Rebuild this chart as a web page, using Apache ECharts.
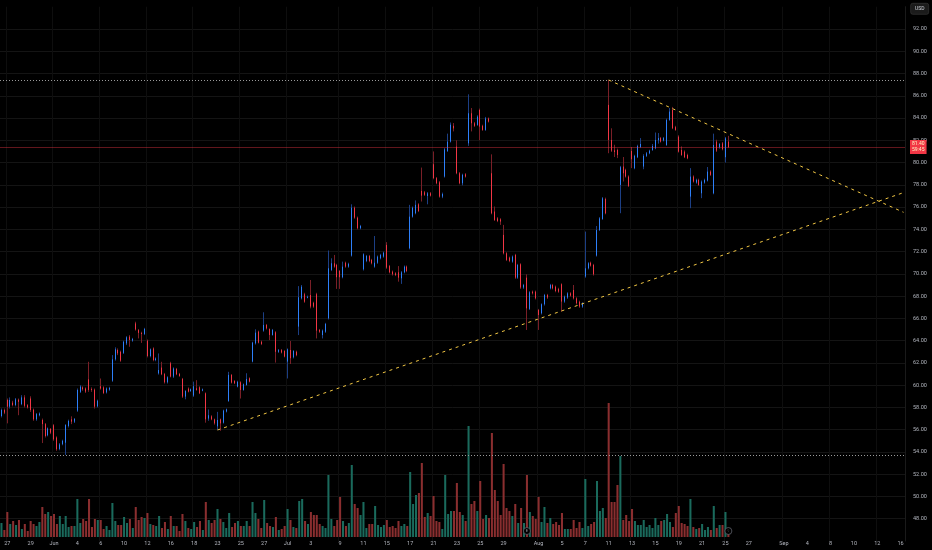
<!DOCTYPE html>
<html lang="en">
<head>
<meta charset="UTF-8">
<script src="https://cdn.jsdelivr.net/npm/echarts@6/dist/echarts.min.js"></script>
<title>Price chart</title>
</head>
<body style="margin:0;background:#000;">
<div id="container" style="width:932px;height:550px;"></div>
<script>
// trading days that have bars (2h bars, [open, close, low, high])
const days = [
    '2025-05-23', '2025-05-27', '2025-05-28', '2025-05-29', '2025-05-30',
    '2025-06-02', '2025-06-03', '2025-06-04', '2025-06-05', '2025-06-06',
    '2025-06-09', '2025-06-10', '2025-06-11', '2025-06-12', '2025-06-13',
    '2025-06-16', '2025-06-17', '2025-06-18', '2025-06-20', '2025-06-23',
    '2025-06-24', '2025-06-25', '2025-06-26', '2025-06-27', '2025-06-30',
    '2025-07-01', '2025-07-02', '2025-07-03', '2025-07-07', '2025-07-08',
    '2025-07-09', '2025-07-10', '2025-07-11', '2025-07-14', '2025-07-15',
    '2025-07-16', '2025-07-17', '2025-07-18', '2025-07-21', '2025-07-22',
    '2025-07-23', '2025-07-24', '2025-07-25', '2025-07-28', '2025-07-29',
    '2025-07-30', '2025-07-31', '2025-08-01', '2025-08-04', '2025-08-05',
    '2025-08-06', '2025-08-07', '2025-08-08', '2025-08-11', '2025-08-12',
    '2025-08-13', '2025-08-14', '2025-08-15', '2025-08-18', '2025-08-19',
    '2025-08-20', '2025-08-21', '2025-08-22', '2025-08-25'
];
// empty days on the right side of the chart
const futureDays = [
    '2025-08-26', '2025-08-27', '2025-08-28', '2025-08-29', '2025-09-02',
    '2025-09-03', '2025-09-04', '2025-09-05', '2025-09-08', '2025-09-09',
    '2025-09-10', '2025-09-11', '2025-09-12', '2025-09-15', '2025-09-16'
];
const candles = [
    [[57.23,57.77,57.10,57.90],[57.77,57.53,57.40,57.90]],
    [[58.67,58.07,56.57,58.80],[58.07,58.67,57.90,58.90],[58.43,58.22,58.10,58.60],[58.22,58.73,58.10,58.85]],
    [[58.70,58.50,57.30,58.80],[58.30,58.90,58.20,59.10],[58.90,58.15,58.00,59.10],[58.20,58.00,57.90,58.30]],
    [[58.80,57.77,57.60,59.00],[57.80,56.93,56.80,57.90],[56.93,57.40,56.80,57.50],[57.30,57.45,57.20,57.55]],
    [[56.87,56.50,54.80,57.00],[56.50,55.43,55.30,56.60],[55.50,56.12,55.40,56.20],[56.06,55.73,55.60,56.15]],
    [[56.40,55.13,55.00,56.50],[55.30,54.24,54.10,55.40],[54.27,54.68,54.15,54.80],[54.70,55.00,54.60,55.10]],
    [[54.83,56.42,53.73,56.50],[56.33,56.78,56.20,56.90],[56.93,56.72,56.50,57.20],[56.72,56.96,56.60,57.05]],
    [[57.71,59.57,57.60,59.70],[59.40,59.87,59.30,60.00],[59.80,59.63,59.50,59.90],[59.70,59.42,59.30,59.80]],
    [[60.52,59.57,59.40,62.10],[59.66,59.57,59.40,59.80],[59.60,58.07,57.90,59.70],[58.10,58.60,58.00,58.70]],
    [[59.90,59.70,59.60,60.60],[59.80,59.30,59.20,59.90],[59.35,59.70,59.25,59.80],[59.60,59.75,59.50,59.85]],
    [[60.40,62.32,60.30,62.70],[62.32,63.22,62.20,63.40],[63.16,62.86,62.70,63.30],[63.00,62.20,62.10,63.10]],
    [[62.90,63.90,62.80,64.00],[63.75,64.30,63.60,64.40],[64.36,64.06,63.45,64.50],[64.00,64.15,63.90,64.25]],
    [[65.55,65.00,64.90,65.70],[64.95,64.70,64.20,65.05],[64.70,64.60,63.80,64.80],[64.60,65.05,64.50,65.15]],
    [[64.00,62.62,62.50,64.10],[62.62,63.22,62.50,63.30],[63.30,62.26,62.15,63.40],[62.26,62.40,62.15,62.50]],
    [[61.06,61.36,60.95,62.85],[61.58,60.98,60.90,62.10],[61.00,60.26,60.15,61.10],[60.26,60.71,60.15,60.80]],
    [[61.97,60.77,60.70,62.10],[60.77,61.50,60.65,61.60],[61.46,60.98,60.90,61.55],[61.00,60.83,60.75,61.10]],
    [[60.56,58.97,58.85,60.65],[58.97,59.48,58.73,59.55],[59.69,59.42,59.35,59.80],[59.48,59.63,59.40,59.70]],
    [[59.06,59.90,58.95,60.32],[59.72,59.57,59.50,60.45],[59.81,59.27,59.20,59.90],[59.50,59.63,59.45,59.70]],
    [[59.27,56.93,56.63,59.35],[57.00,57.30,56.80,57.82],[57.20,56.93,56.85,57.30],[56.93,56.57,56.45,57.00]],
    [[56.30,56.87,55.97,57.60],[56.93,56.57,55.90,57.00],[56.63,57.72,56.55,57.80],[57.63,57.83,57.55,57.90]],
    [[58.58,60.92,58.50,61.20],[60.92,60.23,60.15,61.00],[60.38,60.17,60.10,60.45],[59.87,60.30,59.80,60.40]],
    [[60.26,59.57,58.80,60.35],[59.57,60.08,59.50,60.15],[60.02,60.56,59.95,61.07],[60.62,60.32,60.25,60.70]],
    [[62.12,63.82,62.05,63.90],[63.76,64.72,63.65,65.02],[64.81,63.82,63.75,64.90],[63.90,63.70,63.60,64.00]],
    [[64.90,65.41,64.80,66.55],[65.41,65.10,65.00,65.50],[65.05,64.51,64.05,65.10],[64.51,64.96,64.45,65.05]],
    [[64.75,63.00,62.03,64.85],[63.00,63.15,62.90,63.25],[63.15,62.93,62.85,63.25],[63.07,62.57,62.50,63.15]],
    [[62.12,63.22,60.60,63.30],[63.16,62.42,61.90,63.97],[62.50,63.07,62.40,63.15],[63.00,62.70,62.60,63.10]],
    [[65.26,67.90,64.50,68.90],[67.80,68.85,67.70,69.00],[68.17,67.50,67.40,68.30],[67.85,67.95,67.80,68.05]],
    [[68.10,67.06,66.90,69.45],[67.40,67.06,66.95,67.50]],
    [[68.17,64.90,64.20,68.30],[64.96,64.80,64.70,65.05],[64.50,64.90,64.20,65.00],[64.80,65.50,64.70,65.60]],
    [[66.00,70.50,65.90,72.10],[70.35,70.95,70.25,71.40],[70.95,70.65,70.55,71.70],[70.80,69.70,68.65,70.90]],
    [[70.26,69.70,68.65,70.35],[69.70,70.65,69.60,71.10],[71.00,70.65,70.55,71.10],[70.65,70.90,70.55,71.00]],
    [[71.64,75.95,71.55,76.25],[75.95,75.05,74.95,76.05],[75.05,74.10,74.00,75.15],[74.10,74.30,74.00,74.40]],
    [[70.41,71.76,70.30,71.85],[71.16,71.60,71.05,71.70],[71.60,71.16,71.05,71.70],[71.25,70.95,70.85,71.35]],
    [[70.65,71.00,70.55,73.40],[71.00,71.55,70.90,71.65],[71.40,71.70,71.30,71.80],[71.55,71.90,71.45,72.00]],
    [[72.60,70.56,70.45,72.85],[70.70,70.14,70.05,70.80],[70.20,69.96,69.85,70.30],[70.05,69.90,69.80,70.15]],
    [[70.14,69.66,69.30,70.70],[69.60,70.14,69.10,70.25],[70.14,70.65,70.05,70.75],[70.65,70.26,70.15,70.75]],
    [[72.30,75.14,72.20,76.20],[75.14,75.95,75.05,76.05],[75.45,76.20,75.35,76.60],[76.25,75.65,75.55,76.35]],
    [[77.45,77.03,76.50,79.55],[77.33,77.10,77.00,77.45],[77.00,77.24,76.25,77.35],[77.24,77.03,76.95,77.35]],
    [[79.85,78.60,78.50,81.00],[78.60,78.14,78.05,78.70],[78.23,76.94,76.85,78.35],[76.94,77.18,76.80,77.30]],
    [[78.74,81.19,78.65,81.30],[81.04,81.88,80.95,82.60],[81.88,83.40,81.80,83.60],[83.30,83.07,82.80,83.55]],
    [[81.43,79.04,78.95,82.00],[79.04,78.14,78.05,79.15],[78.14,78.90,77.95,79.00],[78.95,78.74,78.65,79.05]],
    [[81.73,84.43,81.50,86.13],[84.43,83.53,82.80,84.90],[83.53,83.30,83.20,83.65],[83.38,84.13,83.30,84.25]],
    [[84.73,83.23,82.00,84.85],[83.30,82.93,82.85,83.40],[82.93,83.97,82.85,84.10],[83.97,83.68,83.60,84.05]],
    [[79.04,75.44,75.35,80.74],[75.60,74.84,74.75,76.05],[74.99,74.75,74.65,75.10],[74.90,74.70,74.40,75.00]],
    [[73.50,71.85,71.75,74.40],[71.85,71.25,71.15,71.95],[71.46,71.16,71.05,71.55],[71.10,71.55,71.00,71.65]],
    [[71.70,69.66,69.55,71.80],[69.66,70.80,69.55,70.90],[70.86,68.77,68.65,70.95],[68.77,69.00,68.65,69.10]],
    [[69.66,66.90,64.96,69.96],[66.85,68.35,66.75,68.45],[68.40,68.26,68.15,68.50],[68.40,67.80,67.70,68.50]],
    [[66.75,66.30,64.96,66.85],[66.46,67.27,66.35,67.35],[67.27,68.10,67.15,68.20],[68.10,67.87,67.75,68.20]],
    [[68.70,69.00,68.60,69.10],[69.00,68.70,68.60,69.10],[68.85,68.46,68.35,68.95],[68.65,68.40,68.30,68.75]],
    [[69.07,67.51,66.60,69.15],[67.51,67.96,67.40,68.05],[67.87,68.25,67.75,68.35],[68.25,68.05,67.95,68.35]],
    [[68.55,67.80,67.70,69.00],[67.80,67.36,67.25,67.90],[67.50,67.06,66.95,67.60],[67.06,67.36,66.95,67.45]],
    [[69.76,70.50,69.65,73.80],[70.50,70.95,70.40,71.05],[71.00,70.74,70.65,71.10],[70.80,69.96,69.85,70.90]],
    [[71.64,73.94,71.55,74.30],[73.94,74.99,73.85,75.10],[74.93,76.79,74.85,76.90],[76.73,75.44,75.35,76.85]],
    [[85.18,82.03,80.84,87.42],[82.03,81.07,80.95,83.08],[81.10,80.95,80.50,81.60],[81.13,80.68,80.40,81.25]],
    [[77.99,79.58,75.45,79.70],[79.64,79.04,78.30,80.50],[79.34,78.74,78.65,79.45],[78.74,77.90,77.80,78.85]],
    [[81.04,80.30,79.50,81.40],[79.49,80.60,79.40,80.70],[80.48,81.49,80.40,81.60],[81.40,81.67,81.30,82.20]],
    [[79.64,80.60,79.40,80.75],[80.60,80.83,80.50,80.95],[80.83,81.07,80.75,81.15],[81.13,81.49,81.05,81.67]],
    [[81.28,82.03,81.20,82.70],[82.00,82.20,81.70,82.65],[82.20,81.88,81.80,82.30],[81.98,82.20,81.90,82.30]],
    [[81.58,83.83,81.50,83.95],[83.83,84.58,83.75,84.90],[84.73,83.08,83.00,85.00],[83.18,82.93,82.85,83.30]],
    [[82.33,80.98,80.90,82.45],[81.13,80.68,80.60,81.45],[80.98,80.48,80.40,81.10],[80.68,80.38,80.30,80.80]],
    [[76.94,78.74,75.90,79.50],[78.74,78.29,78.20,78.85],[78.20,78.44,78.10,78.55],[78.44,77.99,77.90,78.55]],
    [[77.24,78.29,76.80,78.40],[78.20,78.44,78.10,78.55],[78.38,79.19,78.30,79.60],[79.19,78.89,78.80,79.30]],
    [[77.24,81.58,77.15,82.60],[81.88,81.07,80.95,82.05],[81.37,81.67,81.25,81.75],[81.73,81.20,81.10,81.85]],
    [[80.48,82.18,80.00,82.30],[81.88,81.40,81.30,82.40]]
];
// volume per bar, thousands of shares
const volumes = [
    84,42,150,78,96,72,102,48,78,36, 96,78,66,90,180,138,150,126,138,78,
    126,78,126,60,66,66,228,84,108,96, 228,60,108,102,102,48,66,42,204,96,
    72,72,120,84,108,54,180,102,120,114, 144,78,72,66,126,54,90,48,126,66,
    66,36,138,96,54,48,90,60,96,42, 210,102,84,102,168,108,90,54,144,60,
    84,96,66,66,96,66,210,144,108,54, 222,84,66,60,120,42,48,66,168,102,
    60,54,216,228,96,78,150,132,132,78, 66,54,372,108,66,102,240,96,66,84,
    432,198,174,132,210,54,78,
    78,186,72,60,72,102,60,66,54,96, 66,78,66,390,198,252,264,444,120,144,
    126,246,96,90,48,372,138,156,156,324, 150,132,96,666,198,216,156,336,108,132,
    114,624,282,216,132,438,174,156,126,198, 84,174,84,372,150,126,108,240,90,180,
    84,114,78,90,72,144,48,48,48,102, 54,90,54,348,66,78,90,336,156,174,
    114,804,210,210,312,486,102,132,96,168, 96,72,72,102,60,72,54,114,72,96,
    102,138,90,60,144,186,84,78,66,228, 60,48,54,78,42,60,42,186,54,72,
    72,150,47.85
];
const tickDates = [
    '2025-05-27','2025-05-29','2025-06-02','2025-06-04','2025-06-06','2025-06-10','2025-06-12',
    '2025-06-16','2025-06-18','2025-06-23','2025-06-25','2025-06-27','2025-07-01','2025-07-03',
    '2025-07-09','2025-07-11','2025-07-15','2025-07-17','2025-07-21','2025-07-23','2025-07-25',
    '2025-07-29','2025-08-01','2025-08-05','2025-08-07','2025-08-11','2025-08-13','2025-08-15',
    '2025-08-19','2025-08-21','2025-08-25','2025-08-27','2025-09-02','2025-09-04','2025-09-08',
    '2025-09-10','2025-09-12','2025-09-16'
];
const tickText = [
    '27','29','Jun','4','6','10','12','16','18','23','25','27','Jul','3','9','11','15','17','21',
    '23','25','29','Aug','5','7','11','13','15','19','21','25','27','Sep','4','8','10','12','16'
];
const levels = [87.42, 53.73];
const upperLine = [['2025-08-11 #0', 87.42], ['2025-09-16 #1', 75.53]];
const lowerLine = [['2025-06-23 #0', 55.97], ['2025-09-16 #1', 77.30]];
const lastPrice = 81.40;
const countdown = '59:45';
const lastVolume = 47.85;

// build categories: one per 2h bar slot
let categories = [];
days.forEach(function (d, i) {
    let n = i === days.length - 1 ? 4 : candles[i].length;
    for (let s = 0; s < n; s++) categories.push(d + ' #' + s);
});
futureDays.forEach(function (d, i) {
    let n = i === futureDays.length - 1 ? 2 : 4;
    for (let s = 0; s < n; s++) categories.push(d + ' #' + s);
});
let flat = candles.flat();
let tickMap = {};
tickDates.forEach(function (d, i) { tickMap[d + ' #0'] = i; });

const upColor = '#2d7ff9', downColor = '#f23645';
const upWick = '#1c3f85', downWick = '#7a1f27';
const volUp = '#1a6a5c', volDown = '#8a2e2f';
const gridColor = '#141414';

let dom = document.getElementById('container');
let myChart = echarts.init(dom);
let option = {
    backgroundColor: '#000',
    animation: false,
    textStyle: {fontFamily: 'Roboto'},
    grid: {left: 0, right: 27, top: 6.74, bottom: 9},
    xAxis: {
        type: 'category',
        data: categories,
        axisLine: {show: false},
        axisTick: {show: false},
        axisLabel: {
            color: '#b2b5be', fontSize: 5.5, margin: 0,
            interval: function (idx, val) { return tickMap[val] !== undefined; },
            formatter: function (val) { return tickText[tickMap[val]]; }
        },
        splitLine: {
            show: true,
            interval: function (idx, val) { return tickMap[val] !== undefined && tickMap[val] % 2 === 0; },
            lineStyle: {color: '#0e0e0e'}
        }
    },
    yAxis: [{
        type: 'value', position: 'right', min: 46, max: 94, interval: 2,
        axisLine: {show: true, lineStyle: {color: '#1a1a1a'}},
        axisTick: {show: false},
        axisLabel: {
            color: '#b2b5be', fontSize: 5.5, margin: 8, showMinLabel: false, showMaxLabel: false,
            formatter: function (v) { return v.toFixed(2); }
        },
        splitLine: {lineStyle: {color: gridColor}, showMinLine: false, showMaxLine: false}
    }, {
        type: 'value', min: -24, max: 3181.6, show: false, splitLine: {show: false}
    }],
    graphic: [{
        type: 'group', right: 3, top: 3,
        children: [
            {type: 'rect', shape: {x: 0, y: 0, width: 18, height: 11, r: 2},
             style: {fill: '#1b1b1b', stroke: '#3a3a3a', lineWidth: 0.6}},
            {type: 'text', x: 9, y: 5.5,
             style: {text: 'USD', fill: '#d1d4dc', font: '5px Roboto', align: 'center', verticalAlign: 'middle'}}
        ]
    }],
    series: [{
        name: 'Volume', type: 'bar', xAxisIndex: 0, yAxisIndex: 1, barWidth: '70%',
        data: volumes.map(function (v, i) {
            let c = flat[i];
            return {value: v, itemStyle: {color: c[1] >= c[0] ? volUp : volDown}};
        }),
        markLine: {
            silent: true, symbol: ['none', 'none'],
            data: [{
                yAxis: lastVolume,
                lineStyle: {opacity: 0},
                label: {show: true, position: 'end', distance: 5, formatter: lastVolume + 'K',
                        backgroundColor: downColor, color: '#fff3c4', fontSize: 5, padding: [1.5, 2]}
            }]
        },
        markPoint: {
            silent: true, symbol: 'circle', symbolSize: 7,
            itemStyle: {color: '#000', borderColor: '#6a6d78', borderWidth: 0.7},
            label: {show: true, fontSize: 4, color: '#9598a1'},
            data: [
                {coord: ['2025-07-31 #0', 36], label: {formatter: 'E'}},
                {coord: ['2025-08-25 #1', 36], label: {formatter: 'ϟ'}}
            ]
        }
    }, {
        name: 'wick', type: 'candlestick', barWidth: 1.3,
        data: flat,
        itemStyle: {color: upWick, color0: downWick, borderColor: upWick, borderColor0: downWick, borderWidth: 1}
    }, {
        name: 'body', type: 'candlestick', barWidth: 1.3,
        data: flat.map(function (c) { return [c[0], c[1], Math.min(c[0], c[1]), Math.max(c[0], c[1])]; }),
        itemStyle: {color: upColor, color0: downColor, borderColor: upColor, borderColor0: downColor, borderWidth: 1},
        markLine: {
            silent: true, symbol: ['none', 'none'],
            data: [
                {yAxis: lastPrice,
                 lineStyle: {color: 'rgba(242,54,69,0.4)', type: 'solid', width: 1},
                 label: {show: true, position: 'end', distance: 5, formatter: lastPrice.toFixed(2) + '\n' + countdown,
                         backgroundColor: downColor, color: '#fff3c4', fontSize: 5, lineHeight: 6, padding: [1, 2]}}
            ].concat(levels.map(function (v) {
                return {yAxis: v, lineStyle: {color: '#9a9a9a', type: [1, 2], width: 1}, label: {show: false}};
            })).concat([upperLine, lowerLine].map(function (l) {
                return [
                    {coord: l[0], lineStyle: {color: '#f2c744', type: [3, 4], width: 1}, label: {show: false}},
                    {coord: l[1]}
                ];
            }))
        }
    }]
};
myChart.setOption(option);
</script>
</body>
</html>
